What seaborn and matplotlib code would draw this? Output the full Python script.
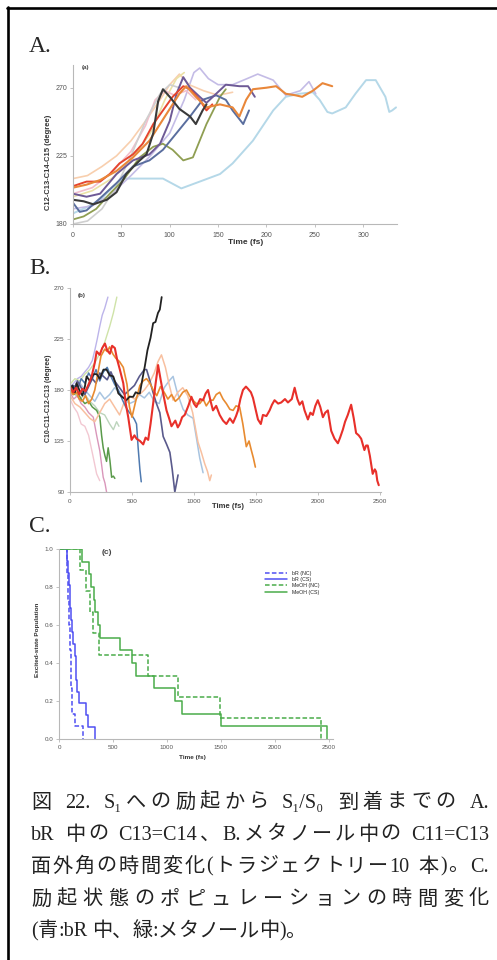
import re
import matplotlib
matplotlib.use("Agg")
import matplotlib.pyplot as plt
from matplotlib.lines import Line2D
import seaborn as sns

# ---- Panel A: C12-C13-C14-C15 dihedral in bR (fs, degree) ----
a_cyan_t = [0, 14, 28, 42, 52, 72, 93, 112, 131, 152, 165, 186, 207, 220, 234, 248, 255, 263, 268, 282, 292, 303, 313, 323, 327, 330, 334]
a_cyan = [187, 191, 196, 205, 210, 210, 210, 203.5, 208, 213, 220, 235, 255, 264, 266, 267, 262, 254, 253, 257, 266, 275, 275, 264, 254, 255, 257]
a_lav_t = [0, 20, 40, 60, 80, 100, 115, 125, 131, 140, 150, 165, 180, 191, 207, 220, 235, 244, 251]
a_lav = [190, 192, 200, 212, 225, 240, 262, 280, 283, 276, 272, 272, 276, 279, 275, 265, 268, 274, 266]
a_peach_t = [0, 15, 30, 45, 60, 75, 90, 100, 110, 120, 135, 150, 165]
a_peach = [210, 212, 218, 225, 235, 248, 262, 272, 279, 272, 268, 265, 267]
a_yellow_t = [0, 20, 40, 60, 80, 95, 107, 115]
a_yellow = [198, 202, 210, 222, 240, 262, 276, 280]
a_pink_t = [0, 20, 40, 60, 75, 85, 95, 105, 117, 127]
a_pink = [200, 204, 214, 228, 245, 262, 268, 265, 268, 262]
a_gray_t = [0, 15, 30, 45, 60, 75, 90, 100, 110]
a_gray = [180, 182, 190, 205, 225, 248, 266, 272, 270]
a_olive_t = [0, 11, 24, 38, 52, 69, 83, 93, 103, 114, 124, 138, 152, 158]
a_olive = [183, 185, 190, 200, 209, 224, 231, 233, 229, 222, 224, 246, 264, 269]
a_slate_t = [0, 7, 14, 28, 45, 62, 79, 93, 107, 121, 134, 148, 158, 165, 176, 182]
a_slate = [194, 188, 189, 197, 207, 218, 222, 229, 240, 251, 262, 265, 262, 255, 246, 255]
a_purple_t = [0, 14, 28, 45, 62, 79, 90, 100, 107, 114, 121, 131, 138, 148, 158, 172, 181, 188]
a_purple = [200, 198, 200, 213, 222, 226, 233, 248, 266, 277, 270, 264, 260, 266, 272, 271, 271, 264]
a_red_t = [0, 14, 28, 38, 48, 62, 72, 83, 93, 103, 114, 121, 131, 138, 144]
a_red = [205, 208, 208, 213, 220, 226, 233, 246, 255, 264, 271, 269, 262, 255, 259]
a_orange_t = [0, 14, 28, 45, 62, 79, 97, 110, 117, 127, 138, 152, 165, 172, 179, 186, 200, 210, 220, 230, 237, 248, 258, 268]
a_orange = [204, 206, 209, 215, 224, 235, 253, 266, 271, 264, 257, 259, 257, 251, 262, 269, 270, 271, 266, 265, 264, 268, 273, 271]
a_black_t = [0, 11, 21, 35, 45, 55, 69, 76, 83, 88, 93, 100, 110, 121, 127, 134, 138]
a_black = [196, 195, 193, 196, 201, 213, 222, 226, 240, 261, 269, 264, 256, 251, 246, 255, 259]

# ---- Panel B: C10-C11-C12-C13 dihedral in methanol ----
b_lav_t = [0, 30, 60, 90, 120, 150, 180, 200, 220, 240, 260, 280, 306]
b_lav = [182, 186, 190, 192, 196, 200, 206, 215, 225, 236, 246, 252, 262]
b_lgreen_t = [0, 40, 80, 120, 160, 200, 240, 280, 320, 350, 378]
b_lgreen = [185, 190, 188, 194, 198, 204, 212, 222, 236, 248, 262]
b_sage_t = [0, 40, 80, 120, 160, 200, 240, 280, 320, 350, 376, 395]
b_sage = [180, 176, 172, 176, 170, 166, 160, 158, 150, 145, 152, 148]
b_lpink_t = [0, 30, 60, 90, 120, 150, 185, 215, 240]
b_lpink = [172, 165, 160, 150, 148, 140, 122, 106, 100]
b_pink_t = [0, 30, 60, 90, 120, 150, 188, 215, 241, 268, 282, 295]
b_pink = [178, 172, 175, 168, 165, 160, 156, 140, 126, 103, 98, 90]
b_green_t = [0, 30, 60, 90, 120, 150, 180, 215, 241, 255, 268, 282, 295, 308, 322, 336, 350, 362]
b_green = [180, 176, 178, 172, 168, 170, 165, 162, 156, 140, 129, 122, 117, 129, 118, 103, 104, 102]
b_lblue_t = [0, 40, 80, 120, 160, 200, 240, 280, 320, 360, 400, 440, 480, 520, 560, 600, 640, 680, 720, 760, 800, 832, 860, 890, 913, 950, 994, 1020, 1047, 1074]
b_lblue = [182, 178, 186, 180, 175, 170, 178, 172, 176, 182, 178, 172, 168, 170, 176, 173, 178, 170, 168, 182, 188, 192, 180, 170, 163, 158, 155, 138, 120, 107]
b_peach_t = [0, 40, 80, 120, 160, 200, 240, 280, 320, 360, 400, 440, 480, 520, 560, 600, 640, 680, 710, 738, 770, 800, 832, 870, 910, 950, 990, 1033, 1060, 1087, 1110, 1128, 1141]
b_peach = [175, 168, 165, 160, 155, 152, 160, 168, 172, 165, 158, 170, 175, 172, 176, 180, 186, 195, 205, 211, 200, 185, 171, 178, 182, 175, 160, 134, 125, 115, 108, 100, 105]
b_steel_t = [0, 30, 60, 90, 120, 150, 180, 210, 240, 270, 300, 330, 360, 390, 420, 450, 480, 497, 520, 537, 550, 564, 575]
b_steel = [178, 184, 180, 190, 186, 195, 190, 198, 188, 196, 200, 192, 185, 180, 172, 165, 160, 158, 154, 150, 129, 110, 99]
b_navy_t = [0, 30, 60, 90, 120, 150, 180, 210, 240, 270, 300, 330, 360, 400, 440, 480, 520, 560, 600, 618, 640, 670, 698, 725, 752, 780, 806, 825, 846, 860, 872]
b_navy = [185, 180, 188, 182, 176, 183, 190, 186, 195, 192, 189, 196, 188, 182, 176, 180, 184, 192, 198, 198, 190, 178, 168, 160, 139, 132, 125, 110, 90, 98, 105]
b_orange_t = [0, 25, 50, 75, 100, 125, 150, 175, 200, 225, 250, 280, 300, 320, 345, 370, 400, 430, 460, 480, 500, 530, 564, 590, 618, 645, 671, 700, 730, 760, 790, 820, 850, 880, 910, 940, 970, 1000, 1020, 1047, 1075, 1100, 1130, 1154, 1180, 1208, 1235, 1262, 1290, 1316, 1340, 1369, 1395, 1423, 1445, 1463, 1480, 1496]
b_orange = [180, 176, 178, 172, 170, 175, 168, 172, 180, 195, 210, 216, 214, 218, 212, 208, 205, 200, 185, 165, 156, 170, 184, 188, 190, 186, 180, 175, 183, 178, 172, 176, 170, 173, 178, 180, 174, 170, 168, 168, 172, 166, 171, 171, 176, 178, 172, 168, 163, 162, 166, 165, 150, 130, 135, 127, 120, 112]
b_black_t = [0, 20, 40, 54, 75, 100, 120, 134, 160, 190, 215, 240, 270, 295, 320, 349, 370, 390, 420, 456, 480, 510, 530, 550, 564, 585, 604, 625, 650, 671, 690, 710, 725, 740]
b_black = [180, 184, 178, 186, 180, 175, 183, 192, 188, 194, 194, 190, 198, 198, 193, 192, 185, 177, 174, 171, 174, 174, 178, 177, 177, 190, 201, 215, 226, 239, 240, 248, 251, 262]
b_red_t = [0, 25, 50, 75, 100, 125, 150, 175, 200, 215, 240, 260, 282, 300, 322, 340, 362, 380, 400, 430, 450, 470, 497, 520, 537, 565, 591, 610, 631, 650, 671, 690, 711, 730, 750, 779, 800, 819, 850, 870, 886, 905, 926, 955, 980, 1000, 1020, 1050, 1074, 1095, 1114, 1135, 1154, 1180, 1208, 1235, 1262, 1290, 1316, 1340, 1356, 1375, 1396, 1420, 1437, 1460, 1477, 1500, 1517, 1540, 1557, 1585, 1611, 1630, 1651, 1680, 1705, 1735, 1759, 1790, 1813, 1835, 1853, 1875, 1893, 1920, 1940, 1960, 1980, 2000, 2020, 2041, 2060, 2081, 2108, 2135, 2162, 2180, 2202, 2220, 2242, 2269, 2290, 2309, 2330, 2350, 2376, 2390, 2403, 2420, 2443, 2460, 2470, 2480, 2492]
b_red = [183, 178, 182, 176, 181, 179, 185, 192, 204, 214, 211, 217, 221, 215, 212, 219, 217, 207, 199, 186, 168, 156, 136, 140, 137, 135, 132, 138, 136, 150, 168, 185, 202, 190, 178, 162, 155, 148, 153, 147, 150, 156, 158, 166, 174, 168, 165, 172, 171, 177, 180, 170, 162, 166, 158, 153, 150, 155, 151, 157, 162, 172, 180, 183, 181, 178, 173, 162, 154, 150, 158, 157, 162, 167, 171, 168, 169, 172, 169, 172, 182, 172, 167, 170, 162, 154, 160, 158, 166, 171, 165, 156, 160, 162, 144, 137, 133, 138, 145, 152, 158, 167, 155, 142, 140, 137, 127, 131, 131, 122, 106, 110, 108, 100, 96]

# ---- Panel C: excited-state population (step curves) ----
br_nc_t = [0, 72, 78, 84, 88, 92, 96, 100, 104, 107, 110, 113, 118, 125, 145, 222]
br_nc_p = [1.0, 0.933, 0.867, 0.8, 0.733, 0.667, 0.6, 0.533, 0.467, 0.4, 0.333, 0.267, 0.2, 0.133, 0.067, 0.0]
br_cs_t = [0, 77, 85, 92, 99, 105, 112, 120, 130, 145, 154, 162, 170, 185, 247, 269, 337]
br_cs_p = [1.0, 0.9375, 0.875, 0.8125, 0.75, 0.6875, 0.625, 0.5625, 0.5, 0.4375, 0.375, 0.3125, 0.25, 0.1875, 0.125, 0.0625, 0.0]
meoh_nc_t = [0, 198, 250, 291, 316, 371, 825, 1103, 1489, 2426]
meoh_nc_p = [1.0, 0.889, 0.778, 0.667, 0.556, 0.444, 0.333, 0.222, 0.111, 0.0]
meoh_cs_t = [0, 216, 278, 300, 320, 334, 361, 376, 569, 677, 717, 878, 1078, 1143, 1505, 2485]
meoh_cs_p = [1.0, 0.933, 0.867, 0.8, 0.733, 0.667, 0.6, 0.533, 0.467, 0.4, 0.333, 0.267, 0.2, 0.133, 0.067, 0.0]
legend_labels = ["bR (NC)", "bR (CS)", "MeOH (NC)", "MeOH (CS)"]

caption_lines = [
    "図 22. S₁への励起から S₁/S₀ 到着までの A.",
    "bR 中の C13=C14、B.メタノール中の C11=C13",
    "面外角の時間変化(トラジェクトリー10 本)。C.",
    "励起状態のポピュレーションの時間変化",
    "(青:bR 中、緑:メタノール中)。",
]

sns.set_style("white")
plt.rcParams["font.family"] = ["Liberation Sans", "DejaVu Sans"]

W, H = 497, 960
fig = plt.figure(figsize=(W / 100, H / 100), dpi=100)


def px_axes(l, t, r, b):
    return fig.add_axes([l / W, 1 - b / H, (r - l) / W, (b - t) / H])


def style(ax, fs, xpad):
    for s in ["top", "right"]:
        ax.spines[s].set_visible(False)
    for s in ["left", "bottom"]:
        ax.spines[s].set_color("#b8b8b8")
        ax.spines[s].set_linewidth(0.8)
    ax.tick_params(labelsize=fs, colors="#b8b8b8", labelcolor="#555555",
                   length=2, width=0.6, pad=2, left=True, bottom=True)
    ax.tick_params(axis="x", pad=xpad)
    ax.set_xlabel("")
    ax.set_ylabel("")


def ftext(x, y, s, **kw):
    return fig.text(x / W, 1 - y / H, s, **kw)


def draw(ax, t, v, color, lw=1.2, alpha=1.0):
    sns.lineplot(x=t, y=v, color=color, lw=lw, alpha=alpha, ax=ax,
                 estimator=None, sort=False, legend=False)


# panel A
axA = px_axes(73, 65, 397, 224)
a_series = [
    (a_cyan_t, a_cyan, "#b5d8e8", 1.4),
    (a_lav_t, a_lav, "#c4bce6", 1.2),
    (a_peach_t, a_peach, "#f8cfae", 1.2),
    (a_yellow_t, a_yellow, "#ebe2a6", 1.2),
    (a_pink_t, a_pink, "#f2bfcc", 1.2),
    (a_gray_t, a_gray, "#cfcfcf", 1.2),
    (a_olive_t, a_olive, "#8f9e52", 1.3),
    (a_slate_t, a_slate, "#5a6e9e", 1.4),
    (a_purple_t, a_purple, "#6e5a96", 1.4),
    (a_red_t, a_red, "#e5452f", 1.4),
    (a_orange_t, a_orange, "#e9873a", 1.5),
    (a_black_t, a_black, "#3a3a3a", 1.5),
]
for t, v, c, lw in a_series:
    draw(axA, t, v, c, lw)
axA.set_xlim(0, 335)
axA.set_ylim(180, 285)
axA.set_yticks([180, 225, 270])
axA.set_xticks([0, 50, 100, 150, 200, 250, 300])
style(axA, 5, 4)
ftext(82, 68, "(a)", fontsize=4.5, fontweight="bold", color="#444", va="center")
ftext(49, 162, "C12-C13-C14-C15 (degree)", rotation=90, fontsize=5.5,
      fontweight="bold", color="#333", ha="center", va="center")
ftext(246, 243, "Time (fs)", fontsize=6, fontweight="bold", color="#333",
      ha="center", va="center")

# panel B
axB = px_axes(70, 288, 381, 492)
b_series = [
    (b_lav_t, b_lav, "#bcb4ea", 1.0),
    (b_lgreen_t, b_lgreen, "#cfe3a8", 1.0),
    (b_sage_t, b_sage, "#bcd4bc", 1.0),
    (b_lpink_t, b_lpink, "#f2c8d2", 1.0),
    (b_pink_t, b_pink, "#d996ba", 1.0),
    (b_green_t, b_green, "#5a9a4a", 1.1),
    (b_lblue_t, b_lblue, "#a8c4e0", 1.1),
    (b_peach_t, b_peach, "#f8c0a0", 1.1),
    (b_steel_t, b_steel, "#4f7ab0", 1.1),
    (b_navy_t, b_navy, "#5a5a8c", 1.2),
    (b_orange_t, b_orange, "#e88b30", 1.2),
    (b_black_t, b_black, "#222222", 1.3),
    (b_red_t, b_red, "#e8302a", 1.5),
]
for t, v, c, lw in b_series:
    draw(axB, t, v, c, lw)
axB.set_xlim(0, 2510)
axB.set_ylim(90, 270)
axB.set_yticks([90, 135, 180, 225, 270])
axB.set_xticks([0, 500, 1000, 1500, 2000, 2500])
style(axB, 4.6, 3)
ftext(78, 296, "(b)", fontsize=4.5, fontweight="bold", color="#444", va="center")
ftext(49, 398, "C10-C11-C12-C13 (degree)", rotation=90, fontsize=5,
      fontweight="bold", color="#333", ha="center", va="center")
ftext(228, 506, "Time (fs)", fontsize=5.5, fontweight="bold", color="#333",
      ha="center", va="center")

# panel C
axC = px_axes(59, 549, 333, 739)
blue, green = "#4f4ff2", "#4aac4a"
dash = (0, (3, 1.5))
c_series = [
    (br_nc_t, br_nc_p, blue, dash),
    (br_cs_t, br_cs_p, blue, "-"),
    (meoh_nc_t, meoh_nc_p, green, dash),
    (meoh_cs_t, meoh_cs_p, green, "-"),
]
for (t, p, c, ls), lab in zip(c_series, legend_labels):
    sns.lineplot(x=t, y=p, color=c, lw=1.1, linestyle=ls, drawstyle="steps-post",
                 ax=axC, estimator=None, sort=False, label=lab)
axC.set_xlim(0, 2540)
axC.set_ylim(0, 1.0)
axC.set_yticks([0, 0.2, 0.4, 0.6, 0.8, 1.0])
axC.set_yticklabels(["0.0", "0.2", "0.4", "0.6", "0.8", "1.0"])
axC.set_xticks([0, 500, 1000, 1500, 2000, 2500])
style(axC, 4.5, 2.5)
axC.legend(loc="upper left", bbox_to_anchor=(262 / W, 1 - 568 / H),
           bbox_transform=fig.transFigure, frameon=False, fontsize=3.8,
           handlelength=4.2, labelspacing=0.25, borderpad=0, handletextpad=1.0)
ftext(102, 553, "(c)", fontsize=6, fontweight="bold", color="#444", va="center")
ftext(37, 640, "Excited-state Population", rotation=90, fontsize=4.6,
      fontweight="bold", color="#333", ha="center", va="center")
ftext(192, 757, "Time (fs)", fontsize=4.6, fontweight="bold", color="#333",
      ha="center", va="center")

# panel letters
serif = ["Liberation Serif", "Noto Sans CJK JP", "DejaVu Sans"]
for lab, y in [("A.", 47), ("B.", 268), ("C.", 527)]:
    ftext(29, y, lab, fontsize=17, family=serif, va="center")

# frame lines of the page box
fig.add_artist(Line2D([7 / W, 1.0], [1 - 8 / H, 1 - 8 / H], transform=fig.transFigure,
                      color="black", lw=1.9))
fig.add_artist(Line2D([8 / W, 8 / W], [0, 1 - 7 / H], transform=fig.transFigure,
                      color="black", lw=1.9))

# caption, justified token by token
renderer = fig.canvas.get_renderer()
cap_y = [803, 835, 867, 900, 932]
x0, x1 = 31, 489
for i, (line, y) in enumerate(zip(caption_lines, cap_y)):
    tokens = re.findall(r"[A-Za-z0-9.=/:()₀₁]+| |.", line)
    texts, widths = [], []
    for tok in tokens:
        if tok == " ":
            texts.append(None)
            widths.append(5.0)
            continue
        t = ftext(0, y, tok, fontsize=14.5, family=serif, va="center", color="#222")
        texts.append(t)
        widths.append(t.get_window_extent(renderer=renderer).width)
    total = sum(widths)
    gap = 0.0
    if i < len(caption_lines) - 1 and len(tokens) > 1:
        gap = max(0.0, (x1 - x0 - total) / (len(tokens) - 1))
    x = x0
    for t, w in zip(texts, widths):
        if t is not None:
            t.set_x(x / W)
        x += w + gap

fig.savefig("out.png", dpi=100)
